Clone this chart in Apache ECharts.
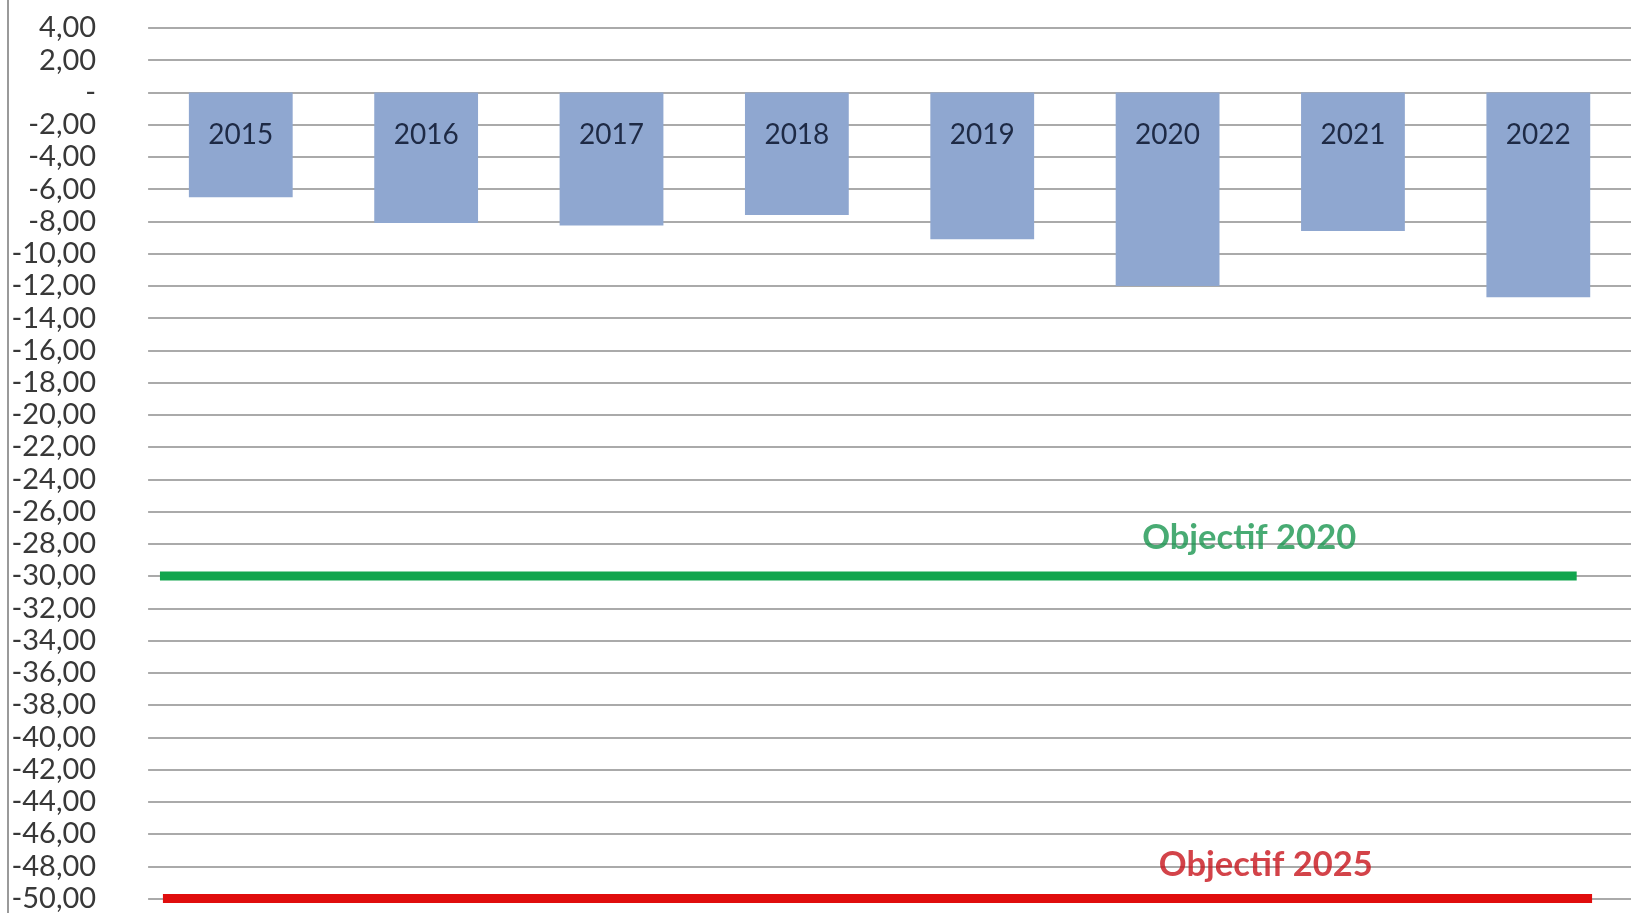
<!DOCTYPE html>
<html>
<head>
<meta charset="utf-8">
<script src="https://cdn.jsdelivr.net/npm/echarts@6/dist/echarts.min.js"></script>
<style>
html,body{margin:0;padding:0;background:#fff;}
#chart{width:1631px;height:913px;}
</style>
</head>
<body>
<div id="chart"></div>
<script>
// ---- data ----
const categories = ['2015','2016','2017','2018','2019','2020','2021','2022'];
const values = [-6.5, -8.1, -8.25, -7.6, -9.1, -12.0, -8.6, -12.7];
const objective2020Value = -30;
const objective2025Value = -50;
// extent of the objective lines, in category-index units
const objective2020Span = [-0.436, 7.207];
const objective2025Span = [-0.42, 7.29];
const objective2020Label = 'Objectif 2020';
const objective2025Label = 'Objectif 2025';
const objective2020LabelX = 5.44;
const objective2025LabelX = 5.53;
const yMin = -50, yMax = 4, yStep = 2;

const chart = echarts.init(document.getElementById('chart'));
const font = 'Lato, "Open Sans", sans-serif';

function fmt(v){
  if (Math.abs(v) < 1e-9) return '-';
  return v.toFixed(2).replace('.', ',');
}

chart.setOption({
  animation: false,
  backgroundColor: '#ffffff',
  grid: { left: 148.1, right: 0, top: 28, bottom: 13, containLabel: false },
  graphic: [{
    type: 'line',
    shape: { x1: 8, y1: 0, x2: 8, y2: 913 },
    style: { stroke: '#9a9a9a', lineWidth: 2 }
  }],
  xAxis: [{
    type: 'category',
    data: categories,
    axisLine: { show: false },
    axisTick: { show: false },
    axisLabel: { show: false },
    splitLine: { show: false }
  }, {
    type: 'value',
    min: -0.5, max: 7.5,
    show: false,
    splitLine: { show: false }
  }],
  yAxis: {
    type: 'value',
    min: yMin, max: yMax, interval: yStep,
    axisLine: { show: false },
    axisTick: { show: false },
    axisLabel: {
      formatter: fmt,
      fontFamily: font,
      fontSize: 29,
      color: '#383838',
      margin: 52,
      align: 'right'
    },
    splitLine: { lineStyle: { color: '#8e8e8e', width: 1.6 } }
  },
  series: [{
    type: 'bar',
    data: values,
    barCategoryGap: '44%',
    itemStyle: { color: '#8FA7D0' },
    label: {
      show: true,
      position: 'insideTop',
      distance: 28,
      formatter: p => p.name,
      fontFamily: font,
      fontSize: 28,
      color: '#1E2A45'
    },
    z: 3
  }, {
    type: 'line',
    xAxisIndex: 1,
    data: objective2020Span.map(x => [x, objective2020Value]),
    symbol: 'none',
    lineStyle: { color: '#12A54E', width: 9, cap: 'butt' },
    z: 4
  }, {
    type: 'line',
    xAxisIndex: 1,
    data: objective2025Span.map(x => [x, objective2025Value]),
    symbol: 'none',
    lineStyle: { color: '#E00D0D', width: 9, cap: 'butt' },
    z: 4
  }, {
    type: 'scatter',
    xAxisIndex: 1,
    data: [
      { value: [objective2020LabelX, objective2020Value], name: objective2020Label, label: { color: '#1A9650', distance: 20 } },
      { value: [objective2025LabelX, objective2025Value], name: objective2025Label, label: { color: '#C8141C', distance: 16 } }
    ],
    symbolSize: 1,
    itemStyle: { color: 'rgba(0,0,0,0)' },
    label: {
      show: true,
      position: 'top',
      formatter: p => p.name,
      fontFamily: font,
      fontWeight: 'bold',
      fontSize: 34.5
    },
    z: 5
  }]
});
</script>
</body>
</html>
